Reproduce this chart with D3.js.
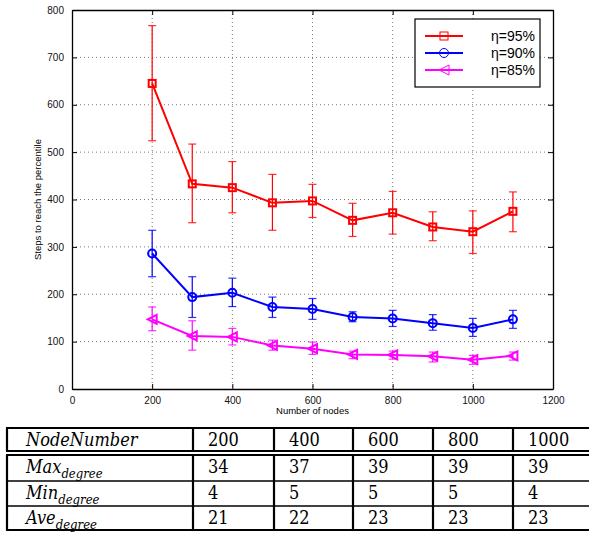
<!DOCTYPE html>
<html>
<head>
<meta charset="utf-8">
<script src="https://cdn.jsdelivr.net/npm/d3@7"></script>
<style>
  html, body { margin: 0; padding: 0; background: #fff; }
  svg { display: block; }
  .serif { font-family: "DejaVu Serif Condensed", "DejaVu Serif", "Liberation Serif", serif; }
  .sans { font-family: "Liberation Sans", "DejaVu Sans", sans-serif; }
</style>
</head>
<body>
<svg id="chart" width="589" height="534"></svg>
<script>
// Number of nodes on the x axis
const nodes = [200, 300, 400, 500, 600, 700, 800, 900, 1000, 1100];

// Steps to reach the percentile: mean, upper and lower error bounds
const eta95 = [645, 433, 425, 393, 397, 356, 372, 342, 332, 375];
const eta95Hi = [767, 517, 480, 453, 432, 392, 417, 374, 376, 416];
const eta95Lo = [524, 351, 372, 335, 362, 322, 327, 313, 286, 332];

const eta90 = [286, 194, 203, 173, 169, 152, 149, 139, 129, 147];
const eta90Hi = [335, 237, 234, 194, 191, 163, 166, 157, 149, 166];
const eta90Lo = [237, 151, 174, 151, 147, 142, 132, 124, 111, 128];

const eta85 = [147, 112, 110, 92, 85, 73, 72, 69, 62, 70];
const eta85Hi = [173, 144, 128, 103, 99, 80, 80, 78, 71, 78];
const eta85Lo = [123, 82, 93, 82, 73, 64, 63, 57, 52, 61];

const seriesNames = ["η=95%", "η=90%", "η=85%"];

const xTicks = [0, 200, 400, 600, 800, 1000, 1200];
const yTicks = [0, 100, 200, 300, 400, 500, 600, 700, 800];

// Degree statistics table
const tableNodeNumbers = [200, 400, 600, 800, 1000];
const maxDegree = [34, 37, 39, 39, 39];
const minDegree = [4, 5, 5, 5, 4];
const aveDegree = [21, 22, 23, 23, 23];

const svg = d3.select("#chart");

const plot = { left: 72, right: 553, top: 10, bottom: 389 };
const x = d3.scaleLinear().domain([0, 1200]).range([plot.left, plot.right]);
const y = d3.scaleLinear().domain([0, 800]).range([plot.bottom, plot.top]);

// Dotted grid
const grid = svg.append("g");
grid.selectAll("line.gx").data(xTicks.slice(1, -1)).join("line")
  .attr("x1", d => x(d)).attr("x2", d => x(d))
  .attr("y1", plot.top).attr("y2", plot.bottom)
  .attr("stroke", "#777").attr("stroke-width", 1).attr("stroke-dasharray", "1,3");
grid.selectAll("line.gy").data(yTicks.slice(1, -1)).join("line")
  .attr("y1", d => y(d)).attr("y2", d => y(d))
  .attr("x1", plot.left).attr("x2", plot.right)
  .attr("stroke", "#777").attr("stroke-width", 1).attr("stroke-dasharray", "1,3");

// Axes (ticks pointing inward) and mirrored ticks on top/right
const fmt = d3.format("d");
const bottomAxis = svg.append("g").attr("transform", `translate(0,${plot.bottom})`)
  .call(d3.axisBottom(x).tickValues(xTicks).tickFormat(fmt).tickSizeInner(-5).tickSizeOuter(0).tickPadding(8));
const leftAxis = svg.append("g").attr("transform", `translate(${plot.left},0)`)
  .call(d3.axisLeft(y).tickValues(yTicks).tickFormat(fmt).tickSizeInner(-5).tickSizeOuter(0).tickPadding(8));
const topAxis = svg.append("g").attr("transform", `translate(0,${plot.top})`)
  .call(d3.axisTop(x).tickValues(xTicks).tickSizeInner(-5).tickSizeOuter(0).tickFormat(""));
const rightAxis = svg.append("g").attr("transform", `translate(${plot.right},0)`)
  .call(d3.axisRight(y).tickValues(yTicks).tickSizeInner(-5).tickSizeOuter(0).tickFormat(""));
[bottomAxis, leftAxis, topAxis, rightAxis].forEach(a => {
  a.attr("font-family", null).attr("font-size", null);
  a.select(".domain").attr("stroke", "#000").attr("stroke-width", 1.3);
  a.selectAll(".tick line").attr("stroke", "#000");
  a.selectAll(".tick text").attr("class", "sans").attr("font-size", 10).attr("fill", "#111");
});

// Axis titles
svg.append("text").attr("class", "sans")
  .attr("x", (plot.left + plot.right) / 2).attr("y", 414)
  .attr("text-anchor", "middle").attr("font-size", 9.5)
  .text("Number of nodes");
svg.append("text").attr("class", "sans")
  .attr("transform", `translate(41,${(plot.top + plot.bottom) / 2}) rotate(-90)`)
  .attr("text-anchor", "middle").attr("font-size", 9.5)
  .text("Steps to reach the percentile");

// Series
const series = [
  { name: seriesNames[0], mean: eta95, hi: eta95Hi, lo: eta95Lo, color: "#ff0000", marker: "square" },
  { name: seriesNames[1], mean: eta90, hi: eta90Hi, lo: eta90Lo, color: "#0000ff", marker: "circle" },
  { name: seriesNames[2], mean: eta85, hi: eta85Hi, lo: eta85Lo, color: "#ff00ff", marker: "triangle" }
];

function drawMarker(g, type, cx, cy, color, size, width) {
  if (type === "square") {
    g.append("rect")
      .attr("x", cx - size / 2).attr("y", cy - size / 2)
      .attr("width", size).attr("height", size)
      .attr("fill", "none").attr("stroke", color).attr("stroke-width", width);
  } else if (type === "circle") {
    g.append("circle")
      .attr("cx", cx).attr("cy", cy).attr("r", size / 2 + 0.5)
      .attr("fill", "none").attr("stroke", color).attr("stroke-width", width);
  } else {
    const s = size / 2 + 1;
    g.append("path")
      .attr("d", `M${cx - s},${cy} L${cx + s},${cy - s} L${cx + s},${cy + s} Z`)
      .attr("fill", "none").attr("stroke", color).attr("stroke-width", width);
  }
}

const line = d3.line().x(d => x(d[0])).y(d => y(d[1]));

series.forEach(s => {
  const g = svg.append("g");
  // error bars
  nodes.forEach((n, i) => {
    const cx = x(n);
    g.append("line").attr("x1", cx).attr("x2", cx)
      .attr("y1", y(s.hi[i])).attr("y2", y(s.lo[i]))
      .attr("stroke", s.color).attr("stroke-width", 1.2);
    [s.hi[i], s.lo[i]].forEach(v => {
      g.append("line").attr("x1", cx - 4).attr("x2", cx + 4)
        .attr("y1", y(v)).attr("y2", y(v))
        .attr("stroke", s.color).attr("stroke-width", 1.2).attr("opacity", 0.8);
    });
  });
  // line
  g.append("path")
    .attr("d", line(nodes.map((n, i) => [n, s.mean[i]])))
    .attr("fill", "none").attr("stroke", s.color).attr("stroke-width", 2);
  // markers
  nodes.forEach((n, i) => drawMarker(g, s.marker, x(n), y(s.mean[i]), s.color, 7, 2));
});

// Legend
const legend = svg.append("g");
legend.append("rect")
  .attr("x", 415).attr("y", 19).attr("width", 125).attr("height", 68)
  .attr("fill", "#fff").attr("stroke", "#000").attr("stroke-width", 1.2);
series.forEach((s, i) => {
  const ly = 36 + i * 17;
  legend.append("line").attr("x1", 425).attr("x2", 463).attr("y1", ly).attr("y2", ly)
    .attr("stroke", s.color).attr("stroke-width", 2);
  drawMarker(legend.append("g"), s.marker, 444, ly, s.color, 8, 1);
  legend.append("text").attr("class", "sans")
    .attr("x", 535).attr("y", ly + 5)
    .attr("text-anchor", "end").attr("font-size", 14)
    .text(s.name);
});

// Degree statistics table
const table = svg.append("g");
const colEdges = [7, 193, 274, 353, 433, 513, 593];
const rowEdges = [428, 451, 455, 481, 506, 530];

function hLine(yy, w) {
  table.append("line").attr("x1", colEdges[0] - 1).attr("x2", 589).attr("y1", yy).attr("y2", yy)
    .attr("stroke", "#000").attr("stroke-width", w);
}
hLine(rowEdges[0], 2);
hLine(rowEdges[1], 2);
hLine(rowEdges[2], 2);
hLine(rowEdges[3], 1.6);
hLine(rowEdges[4], 1.6);
hLine(rowEdges[5], 2);
colEdges.slice(0, 6).forEach(cx => {
  table.append("line").attr("x1", cx).attr("x2", cx).attr("y1", rowEdges[0]).attr("y2", rowEdges[1]).attr("stroke", "#000").attr("stroke-width", 2.2);
  table.append("line").attr("x1", cx).attr("x2", cx).attr("y1", rowEdges[2]).attr("y2", rowEdges[5]).attr("stroke", "#000").attr("stroke-width", 2.2);
});

// header row
table.append("text").attr("class", "serif").attr("x", 26).attr("y", 446)
  .attr("font-style", "italic").attr("font-size", 18)
  .text("NodeNumber");
tableNodeNumbers.forEach((v, i) => {
  table.append("text").attr("class", "serif").attr("x", colEdges[i + 1] + 15).attr("y", 446)
    .attr("font-size", 18).text(v);
});

// body rows
const bodyRows = [
  { label: "Max", values: maxDegree },
  { label: "Min", values: minDegree },
  { label: "Ave", values: aveDegree }
];
bodyRows.forEach((r, ri) => {
  const top = rowEdges[ri + 2];
  const base = top + 18;
  const t = table.append("text").attr("class", "serif").attr("x", 26).attr("y", base)
    .attr("font-style", "italic").attr("font-size", 18);
  t.append("tspan").text(r.label);
  t.append("tspan").attr("dy", 5).attr("font-size", 13).text("degree");
  r.values.forEach((v, i) => {
    table.append("text").attr("class", "serif").attr("x", colEdges[i + 1] + 15).attr("y", base)
      .attr("font-size", 18).text(v);
  });
});
</script>
</body>
</html>
